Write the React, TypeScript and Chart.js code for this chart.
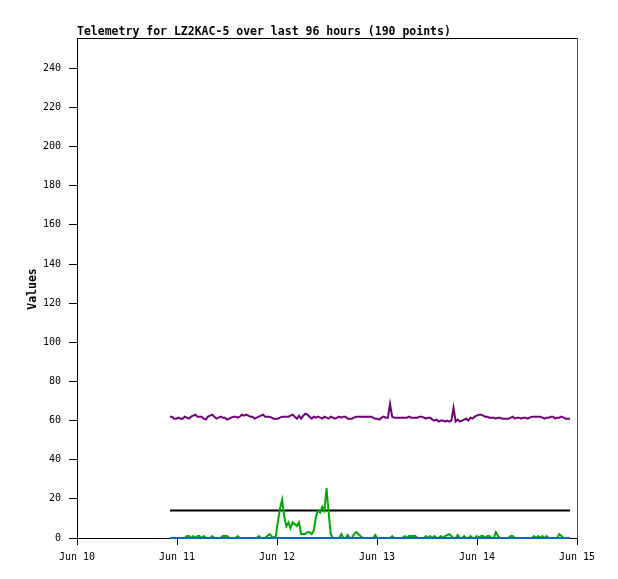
import React, { useEffect, useRef } from "react";
import { Chart, registerables } from "chart.js";

Chart.register(...registerables);

// Time axis: hours since Jun 10 00:00
const START_HOUR = 22.3;
const STEP_HOURS = 96 / 189;
const X_TICK_LABELS = ["Jun 10", "Jun 11", "Jun 12", "Jun 13", "Jun 14", "Jun 15"];
const Y_TICKS = [0, 20, 40, 60, 80, 100, 120, 140, 160, 180, 200, 220, 240];

const purpleValues = [
  62, 62, 61, 61, 61.5, 61, 61, 62, 61.5, 61, 62, 62.5, 63, 62, 62, 62, 61, 60.5, 62, 62.5,
  63, 62, 61, 61.5, 62, 61.5, 61.5, 60.5, 61, 61.5, 62, 62, 61.5, 62, 63, 62.5, 63, 62.5, 62, 62,
  61, 61.5, 62, 62.5, 63, 62, 62, 62, 61.5, 61, 61, 61, 61.5, 62, 62, 62, 62, 62.5, 63, 62,
  61, 62.5, 61, 62.5, 63.5, 63, 62, 61, 62, 61.5, 62, 61.5, 61, 62, 61.5, 61, 62, 61.5, 61, 61.5,
  62, 61.5, 62, 62, 61, 61, 61, 61.5, 62, 62, 62, 62, 62, 62, 62, 62, 61.5, 61, 61, 60.5,
  61.5, 62, 61.5, 61.5, 68.5, 62, 61.5, 61.5, 61.5, 61.5, 61.5, 61.5, 61.5, 62, 61.5, 61.5, 61.5, 61.5, 62, 62,
  61.5, 61, 61.5, 61.5, 60.5, 60, 60.5, 59.5, 60, 60, 59.5, 60, 59.5, 60, 66.5, 59.5, 60.5, 59.5, 60, 60.5,
  61, 60, 61.5, 61, 62, 62.5, 63, 63, 62.5, 62, 62, 61.5, 61.5, 61.5, 61, 61.5, 61.5, 61, 61, 61,
  61, 61.5, 62, 61, 61.5, 61.5, 61, 61.5, 61.5, 61, 61.5, 62, 62, 62, 62, 62, 61.5, 61, 61.5, 61.5,
  62, 62, 61, 61.5, 61.5, 62, 61.5, 61, 61, 61,
];

const greenValues = [
  0, 0, 0, 0, 0, 0, 0, 0, 1, 1, 0, 1, 0, 1, 1, 0, 1, 0, 0, 0,
  1, 0, 0, 0, 0, 1, 1, 1, 0, 0, 0, 0, 1, 0, 0, 0, 0, 0, 0, 0,
  0, 0, 1, 0, 0, 0, 1, 2, 1, 0, 1, 8, 15, 19.5, 11, 6, 8, 5, 8, 7,
  6, 8, 2, 2, 2, 3, 3, 2, 4, 11, 14, 13, 16, 14, 25.5, 13, 2, 0, 0, 0,
  0, 2, 0, 0, 1.5, 0, 0, 2, 3, 2, 1, 0, 0, 0, 0, 0, 0, 1.5, 0, 0,
  0, 0, 0, 0, 0, 1, 0, 0, 0, 0, 0, 1, 0, 1, 1, 1, 1, 0, 0, 0,
  0, 1, 0, 1, 0, 1, 0, 0, 1, 0, 1, 1.5, 2, 1, 0, 0, 1.5, 0, 0, 1,
  0, 0, 1, 0, 0, 1, 0, 1, 1, 0, 1, 1, 0, 0, 3, 1, 0, 0, 0, 0,
  0, 1, 1, 0, 0, 0, 0, 0, 0, 0, 0, 0, 1, 0, 1, 0, 1, 0, 1, 0,
  0, 0, 0, 0, 2, 1, 0, 0, 0, 0,
];

const blackValues = new Array(190).fill(14);
const blueValues = new Array(190).fill(0);

const TITLE = "Telemetry for LZ2KAC-5 over last 96 hours (190 points)";
const Y_TITLE = "Values";

const toPoints = (vals: number[]) =>
  vals.map((v, i) => ({ x: START_HOUR + i * STEP_HOURS, y: v }));

export default function App() {
  const ref = useRef<HTMLCanvasElement | null>(null);

  useEffect(() => {
    if (!ref.current) return;
    const framePlugin = {
      id: "frame",
      afterDraw(chart: any) {
        const { ctx, chartArea } = chart;
        const { left, right, top, bottom } = chartArea;
        ctx.save();
        ctx.lineWidth = 1;
        ctx.strokeStyle = "#000";
        ctx.beginPath();
        ctx.moveTo(left, top + 0.5);
        ctx.lineTo(right + 0.5, top + 0.5);
        ctx.stroke();
        ctx.strokeStyle = "#555";
        ctx.beginPath();
        ctx.moveTo(right + 0.5, top);
        ctx.lineTo(right + 0.5, bottom);
        ctx.stroke();
        ctx.fillStyle = "#000";
        ctx.font = 'bold 11.5px "DejaVu Sans Mono"';
        ctx.textAlign = "left";
        ctx.textBaseline = "alphabetic";
        ctx.fillText(TITLE, 77, 35);
        ctx.translate(36, 289);
        ctx.rotate(-Math.PI / 2);
        ctx.textAlign = "center";
        ctx.fillText(Y_TITLE, 0, 0);
        ctx.restore();
      },
    };

    const common = { borderWidth: 2, pointRadius: 0, tension: 0, clip: 4 };
    const chart = new Chart(ref.current, {
      type: "line",
      data: {
        datasets: [
          { ...common, data: toPoints(blueValues), borderColor: "#0a66c2" },
          { ...common, data: toPoints(greenValues), borderColor: "#00aa00" },
          { ...common, data: toPoints(blackValues), borderColor: "#000000" },
          { ...common, data: toPoints(purpleValues), borderColor: "#70007a" },
        ],
      },
      options: {
        animation: false,
        responsive: false,
        maintainAspectRatio: false,
        events: [],
        layout: { padding: { top: 38, right: 41, left: 0, bottom: 0 } },
        plugins: { legend: { display: false }, tooltip: { enabled: false }, title: { display: false } },
        scales: {
          x: {
            type: "linear",
            min: 0,
            max: 120,
            afterFit: (s: any) => { s.height = 41; },
            afterBuildTicks: (s: any) => {
              s.ticks = X_TICK_LABELS.map((_, i) => ({ value: i * 24 }));
            },
            ticks: {
              autoSkip: false,
              maxRotation: 0,
              padding: 6,
              color: "#000",
              font: { family: "DejaVu Sans Mono", size: 10 },
              callback: (v: any) => X_TICK_LABELS[Math.round(Number(v) / 24)] ?? "",
            },
            grid: { drawOnChartArea: false, drawTicks: true, tickLength: 7, color: "#000", z: -1 },
            border: { color: "#000", width: 1, z: -1 },
          },
          y: {
            type: "linear",
            min: 0,
            max: 255.5,
            afterFit: (s: any) => { s.width = 77; },
            afterBuildTicks: (s: any) => {
              s.ticks = Y_TICKS.map((v) => ({ value: v }));
            },
            ticks: {
              padding: 8,
              color: "#000",
              font: { family: "DejaVu Sans Mono", size: 10 },
            },
            grid: { drawOnChartArea: false, drawTicks: true, tickLength: 8, color: "#000", z: -1 },
            border: { color: "#000", width: 1, z: -1 },
          },
        },
      },
      plugins: [framePlugin],
    } as any);
    return () => chart.destroy();
  }, []);

  return (
    <div style={{ position: "fixed", left: 0, top: 0, width: 618, height: 579, background: "#fff" }}>
      <canvas ref={ref} width={618} height={579} style={{ display: "block", width: 618, height: 579 }} />
    </div>
  );
}
